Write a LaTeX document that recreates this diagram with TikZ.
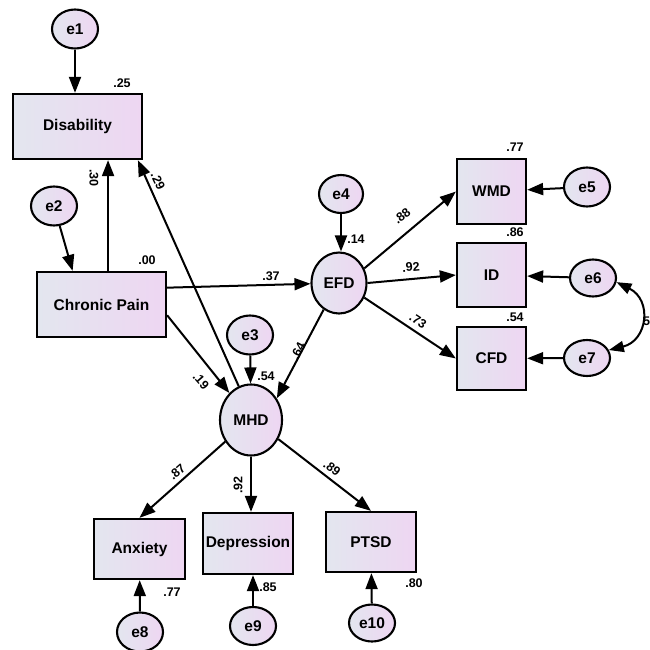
\documentclass[tikz,border=0pt]{standalone}
\usepackage{fontspec}
\setmainfont{Liberation Sans}
\usetikzlibrary{shapes,positioning,calc,arrows.meta}
\definecolor{semleft}{RGB}{227,230,239}
\definecolor{semright}{RGB}{238,214,242}
\tikzset{
    observed/.style={rectangle, draw, line width=2.3pt, left color=semleft, right color=semright, inner sep=0pt, font=\fontsize{15.5}{18}\selectfont\bfseries},
    latent/.style={ellipse, draw, line width=2.1pt, left color=semleft, right color=semright, inner sep=0pt, font=\fontsize{15.5}{18}\selectfont\bfseries},
    errterm/.style={latent, minimum width=46pt, minimum height=39pt},
    regpath/.style={line width=2pt, -{Triangle[length=16pt,width=12pt]}},
    covpath/.style={line width=2pt, {Triangle[length=15pt,width=11pt]}-{Triangle[length=15pt,width=11pt]}},
    coef/.style={inner sep=0pt, font=\fontsize{12.5}{14}\selectfont\bfseries}
}

\begin{document}
\begin{tikzpicture}[x=1pt, y=-1pt]
        \useasboundingbox (0,0) rectangle (649,650);
        \node [observed, minimum width=129pt, minimum height=65pt] (disability) at (77.5,126.5) {Disability};
        \node [observed, minimum width=129pt, minimum height=65pt] (pain) at (101.5,304.5) {Chronic Pain};
        \node [observed, minimum width=69pt, minimum height=65pt] (wmd) at (491.5,191.5) {WMD};
        \node [observed, minimum width=69pt, minimum height=64pt] (id) at (491.5,275) {ID};
        \node [observed, minimum width=69pt, minimum height=63pt] (cfd) at (491.5,358.5) {CFD};
        \node [observed, minimum width=91pt, minimum height=60pt] (anxiety) at (139.5,549) {Anxiety};
        \node [observed, minimum width=90pt, minimum height=61pt] (depression) at (248,543.5) {Depression};
        \node [observed, minimum width=90pt, minimum height=60pt] (ptsd) at (371,542) {PTSD};
        \node [latent, minimum width=55pt, minimum height=61pt] (efd) at (339,283) {EFD};
        \node [latent, minimum width=62pt, minimum height=71pt] (mhd) at (251,420) {MHD};

        \node [errterm] (e1) at (75,29) {e1};
        \node [errterm] (e2) at (54,206) {e2};
        \node [errterm] (e3) at (250,335) {e3};
        \node [errterm, minimum width=44pt, minimum height=38pt] (e4) at (341,194) {e4};
        \node [errterm] (e5) at (587,187) {e5};
        \node [errterm, minimum height=37pt] (e6) at (593,278) {e6};
        \node [errterm, minimum height=36pt] (e7) at (587,358) {e7};
        \node [errterm] (e8) at (140,632) {e8};
        \node [errterm, minimum height=38pt] (e9) at (253,626) {e9};
        \node [errterm, minimum height=37pt] (e10) at (372,623) {e10};

        \coordinate (painup) at ($(pain.north west)!0.55!(pain.north east)$);
        \coordinate (painright) at ($(pain.north east)!0.25!(pain.south east)$);
        \coordinate (painlow) at ($(pain.north east)!0.66!(pain.south east)$);
        \coordinate (disfoot) at ($(disability.south west)!0.96!(disability.south east)$);
        \coordinate (e2foot) at ($(pain.north west)!0.28!(pain.north east)$);

        \draw [regpath] (e1) -- (e1 |- disability.north);
        \draw [regpath] (e2) -- (e2foot);
        \draw [regpath] (painup) -- (painup |- disability.south);
        \draw [regpath] (mhd.110) -- (disfoot);
        \draw [regpath] (painright) -- (efd);
        \draw [regpath] (painlow) -- (mhd);
        \draw [regpath] (e3) -- (mhd);
        \draw [regpath] (e4) -- (e4 |- efd.north);
        \draw [regpath] (efd.240) -- (mhd.40);
        \draw [regpath] (efd.30) -- (wmd.west);
        \draw [regpath] (efd.east) -- (id.west);
        \draw [regpath] (efd.-30) -- (cfd.west);
        \draw [regpath] (e5) -- (wmd);
        \draw [regpath] (e6) -- (id);
        \draw [regpath] (e7) -- (cfd);
        \draw [covpath] (e6.-10) to[bend left=70, looseness=1.5] (e7.20);
        \draw [regpath] (mhd.220) -- (anxiety.north);
        \draw [regpath] (mhd) -- (mhd |- depression.north);
        \draw [regpath] (mhd.-35) -- (ptsd.north);
        \draw [regpath] (e8) -- (anxiety);
        \draw [regpath] (e9) -- (e9 |- depression.south);
        \draw [regpath] (e10) -- (ptsd);

        \node [coef] (r2dis) at (122,83) {.25};
        \node [coef] (r2pain) at (147,260) {.00};
        \node [coef, rotate=-90] (bpaindis) at (94,178) {.30};
        \node [coef, rotate=-65] (bmhddis) at (158,181) {.29};
        \node [coef] (bpainefd) at (271,276) {.37};
        \node [coef] (r2efd) at (356,239) {.14};
        \node [coef, rotate=39] (lwmd) at (402,216) {.88};
        \node [coef, rotate=5] (lid) at (411,267) {.92};
        \node [coef, rotate=-33] (lcfd) at (418,321) {.73};
        \node [coef] (r2wmd) at (515,147) {.77};
        \node [coef] (r2id) at (515,232) {.86};
        \node [coef] (r2cfd) at (515,317) {.54};
        \node [coef] (r2mhd) at (266,376) {.54};
        \node [coef, rotate=-49] (bpainmhd) at (201,381) {.19};
        \node [coef, rotate=63] (befdmhd) at (298,351) {.64};
        \node [coef, rotate=41] (lanx) at (177,472) {.87};
        \node [coef, rotate=90] (ldep) at (238,485) {.92};
        \node [coef, rotate=-37] (lptsd) at (332,468) {.89};
        \node [coef] (r2anx) at (172,592) {.77};
        \node [coef] (r2dep) at (268,587) {.85};
        \node [coef] (r2ptsd) at (414,583) {.80};
        \node [coef, anchor=west] (cov67) at (643,321) {5};
    \end{tikzpicture}
\end{document}
